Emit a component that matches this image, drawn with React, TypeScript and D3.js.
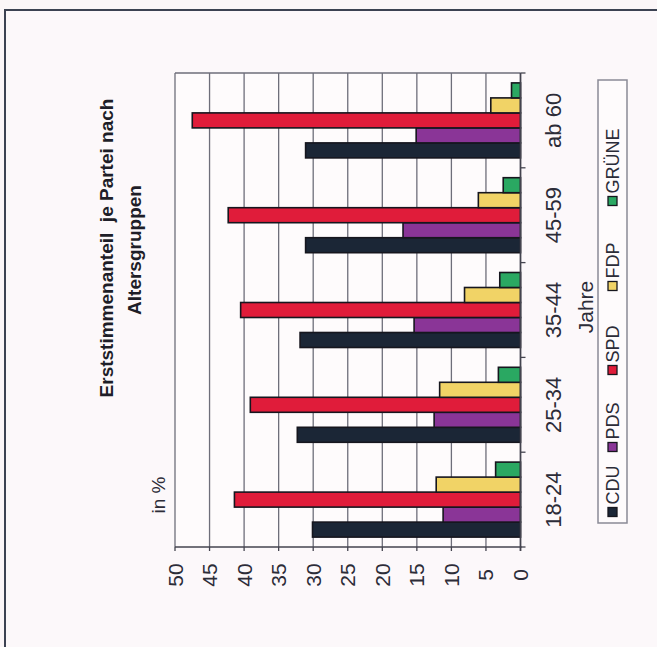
import React from "react";
import * as d3 from "d3";

const categories = ["18-24", "25-34", "35-44", "45-59", "ab 60"];
const series = ["CDU", "PDS", "SPD", "FDP", "GRÜNE"];
const cdu = [30.1, 32.3, 31.9, 31.1, 31.1];
const pds = [11.2, 12.5, 15.4, 17.0, 15.1];
const spd = [41.4, 39.1, 40.5, 42.3, 47.5];
const fdp = [12.2, 11.7, 8.1, 6.1, 4.3];
const gruene = [3.6, 3.2, 3.0, 2.5, 1.3];
const valueTicks = [0, 5, 10, 15, 20, 25, 30, 35, 40, 45, 50];
const colors = ["#1b2636", "#8a3597", "#e01c3a", "#f1d366", "#2aa862"];

const W = 657;
const H = 647;
const font = "Liberation Sans, Arial, Helvetica, sans-serif";
const ink = "#2c2c38";

export default function App() {
  const values = [cdu, pds, spd, fdp, gruene];
  const x = d3.scaleLinear().domain([0, 50]).range([520.5, 175]);
  const y = d3
    .scaleBand<string>()
    .domain([...categories].reverse())
    .range([73, 547])
    .paddingInner(0)
    .paddingOuter(0);
  const sub = d3
    .scaleBand<string>()
    .domain([...series].reverse())
    .range([0, y.bandwidth()])
    .paddingInner(0)
    .paddingOuter(0.66);

  const legendPos = [512, 447, 370, 286, 201];

  return (
    <svg
      width={W}
      height={H}
      style={{ position: "absolute", left: 0, top: 0, background: "#fbf6f8" }}
    >
      <rect x={0} y={0} width={W} height={H} fill="#fbf6f8" />
      <rect x={5} y={10} width={W + 20} height={H + 20} fill="#fcf8fa" stroke="#3c4252" strokeWidth={2} />
      <rect x={x(50)} y={73} width={x(0) - x(50)} height={474} fill="#fefbfc" />
      {valueTicks.map((t) => (
        <line key={"g" + t} x1={x(t)} x2={x(t)} y1={73} y2={547} stroke="#6e6e7a" strokeWidth={1.3} />
      ))}
      <line x1={x(50)} x2={x(0)} y1={73} y2={73} stroke="#6e6e7a" strokeWidth={1.3} />
      {categories.map((c, ci) =>
        series.map((s, si) => {
          const v = values[si][ci];
          const y0 = (y(c) as number) + (sub(s) as number);
          return (
            <rect
              key={c + s}
              x={x(v)}
              y={y0}
              width={x(0) - x(v)}
              height={sub.bandwidth()}
              fill={colors[si]}
              stroke="#16161e"
              strokeWidth={1.6}
            />
          );
        })
      )}
      <line x1={x(50)} x2={x(0) + 1} y1={547} y2={547} stroke="#44444f" strokeWidth={1.6} />
      <line x1={x(0)} x2={x(0)} y1={73} y2={551} stroke="#44444f" strokeWidth={1.6} />
      {valueTicks.map((t) => (
        <line key={"vt" + t} x1={x(t)} x2={x(t)} y1={547} y2={551} stroke="#44444f" strokeWidth={1.3} />
      ))}
      {y.domain().concat(["end"]).map((c, i) => {
        const yy = 73 + i * y.step();
        return <line key={"ct" + i} x1={x(0)} x2={x(0) + 5} y1={yy} y2={yy} stroke="#44444f" strokeWidth={1.3} />;
      })}
      {valueTicks.map((t) => (
        <text
          key={"vl" + t}
          transform={`translate(${x(t)},575) rotate(-90)`}
          textAnchor="middle"
          dominantBaseline="central"
          fontFamily={font}
          fontSize={21}
          fill={ink}
        >
          {t}
        </text>
      ))}
      {categories.map((c) => (
        <text
          key={"cl" + c}
          transform={`translate(553,${(y(c) as number) + y.bandwidth() / 2}) rotate(-90)`}
          textAnchor="middle"
          dominantBaseline="central"
          fontFamily={font}
          fontSize={22}
          fill={ink}
        >
          {c}
        </text>
      ))}
      <text
        transform={`translate(585,307) rotate(-90)`}
        textAnchor="middle"
        dominantBaseline="central"
        fontFamily={font}
        fontSize={21}
        fill={ink}
      >
        Jahre
      </text>
      <text
        transform={`translate(158,495) rotate(-90)`}
        textAnchor="middle"
        dominantBaseline="central"
        fontFamily={font}
        fontSize={19}
        fill={ink}
      >
        in %
      </text>
      <text
        transform={`translate(106,248) rotate(-90)`}
        textAnchor="middle"
        dominantBaseline="central"
        fontFamily={font}
        fontSize={19}
        fontWeight="bold"
        fill="#1e1e28"
        style={{ whiteSpace: "pre" }}
      >
        {"Erststimmenanteil  je Partei nach"}
      </text>
      <text
        transform={`translate(134,250) rotate(-90)`}
        textAnchor="middle"
        dominantBaseline="central"
        fontFamily={font}
        fontSize={19}
        fontWeight="bold"
        fill="#1e1e28"
      >
        Altersgruppen
      </text>
      <rect x={598} y={80} width={29} height={443} fill="#fefbfc" stroke="#8a8a96" strokeWidth={1.5} />
      {series.map((s, i) => (
        <g key={"lg" + s}>
          <rect x={608} y={legendPos[i] - 4.5} width={9} height={9} fill={colors[i]} stroke="#16161e" strokeWidth={1.3} />
          <text
            transform={`translate(612.5,${legendPos[i] - 7.5}) rotate(-90)`}
            textAnchor="start"
            dominantBaseline="central"
            fontFamily={font}
            fontSize={18}
            fill={ink}
          >
            {s}
          </text>
        </g>
      ))}
    </svg>
  );
}
